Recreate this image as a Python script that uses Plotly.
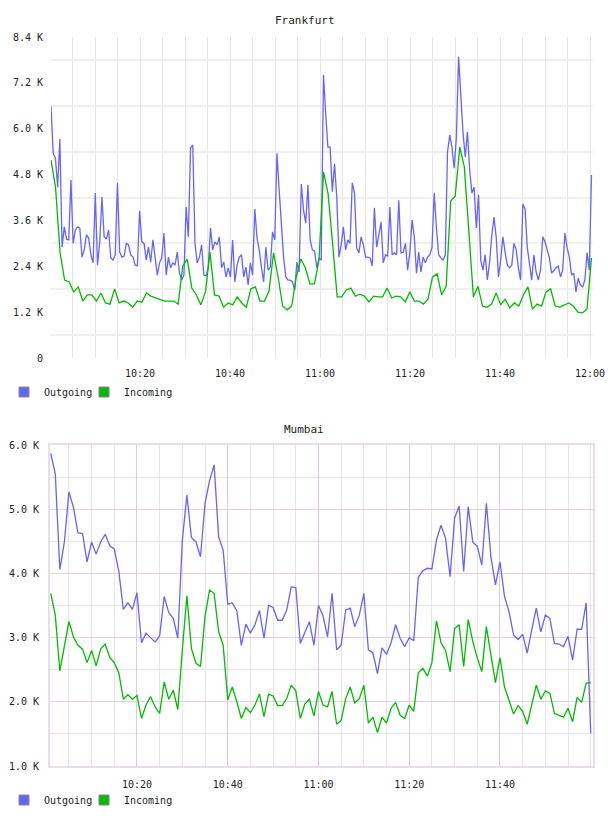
import plotly.graph_objects as go
import pandas as pd

# ---------------- data (values in K) ----------------
fra_out = [6.59, 5.35, 5.23, 4.47, 5.73, 2.9, 3.43, 3.11, 3.09, 4.66,
           3.0, 3.35, 3.43, 3.40, 2.64, 2.83, 3.22, 3.14, 2.70, 2.49,
           4.32, 2.43, 3.04, 4.21, 3.17, 3.11, 3.35, 2.62, 2.56, 2.70,
           4.58, 2.77, 2.64, 2.67, 3.0, 2.96, 2.70, 2.64, 2.43, 2.41,
           3.85, 3.04, 3.0, 2.56, 2.90, 2.51, 3.09, 2.56, 2.17, 2.49,
           2.62, 3.27, 2.17, 2.64, 2.36, 2.49, 2.43, 2.77, 2.22, 2.04,
           2.17, 3.95, 3.17, 5.50, 5.57, 3.0, 2.49, 2.64, 2.96,
           2.17, 2.15, 2.38, 3.40, 2.83, 3.04, 2.96, 3.17, 2.36, 2.51,
           2.12, 2.36, 2.12, 3.09, 1.99, 2.43, 2.64, 2.70, 2.12, 2.38,
           1.91, 2.49, 2.17, 3.90, 3.14, 2.83, 2.38, 1.99, 2.90, 2.30,
           2.38, 3.30, 3.09, 5.36, 4.40, 3.61, 2.64, 2.12, 2.04, 2.04,
           1.99, 1.78, 2.51, 2.25, 4.55, 3.87, 3.53, 4.53, 3.09, 2.83,
           2.80, 2.36, 2.62, 2.56, 7.41, 6.4, 5.52, 5.52, 4.35, 5.08,
           4.21, 2.64, 2.96, 3.43, 2.83, 3.09, 3.0, 4.58, 4.32, 2.88,
           2.75, 3.17, 2.96, 2.64, 2.64, 2.62, 2.41, 3.93, 2.90, 3.22,
           3.56, 2.49, 2.70, 2.67, 3.95, 2.70, 2.75, 2.70, 4.13, 2.75,
           2.77, 3.0, 2.30, 2.77, 3.61, 3.17, 2.22, 2.77, 2.25, 2.64,
           2.49, 2.64, 2.70, 2.90, 4.32, 3.40, 2.70, 2.62, 2.56, 2.70,
           5.39, 5.83, 5.52, 4.97, 5.78, 7.88,
           6.80, 5.89, 5.26, 5.91, 4.92, 4.32, 4.47, 3.40, 4.27, 2.56,
           2.30, 2.70, 2.04, 2.51, 3.22, 3.69, 3.14, 2.12, 2.56, 3.17,
           2.77, 2.43, 2.36, 2.43, 3.0, 2.83, 2.36, 2.04, 4.03, 3.90,
           2.90, 2.43, 2.04, 2.70, 2.25, 2.04, 2.30, 3.17, 3.04, 2.83,
           2.62, 2.22, 2.30, 2.36, 2.41, 2.12, 2.30, 3.27, 2.88, 2.64,
           2.17, 2.22, 1.73, 2.09, 1.91, 1.86, 2.04, 2.75, 2.30, 4.79]

fra_in = [5.18, 4.47, 2.75, 2.04, 1.99, 1.73, 1.86, 1.49, 1.65, 1.65,
          1.49, 1.70, 1.44, 1.41, 1.81, 1.44, 1.49, 1.44, 1.33, 1.49,
          1.46, 1.70, 1.62, 1.57, 1.52, 1.49, 1.49, 1.49, 1.41, 2.41,
          2.59, 1.83, 1.65, 1.39, 1.73, 2.77, 1.65, 1.62, 1.33, 1.44,
          1.39, 1.60, 1.44, 1.33, 1.81, 1.86, 1.49, 1.49, 1.75, 2.75,
          2.12, 1.36, 1.26, 1.36, 2.12, 2.59, 2.36, 1.94, 1.94, 2.56,
          4.87, 4.3, 3.0, 1.60, 1.60, 1.78, 1.83, 1.62, 1.67, 1.62,
          1.47, 1.62, 1.60, 1.60, 1.83, 1.57, 1.62, 1.60, 1.47, 1.73,
          1.49, 1.49, 1.41, 1.54, 2.12, 2.20, 1.65, 1.88, 4.11, 4.24,
          5.52, 5.0, 3.3, 1.60, 1.88, 1.36, 1.33, 1.41, 1.70, 1.39,
          1.54, 1.31, 1.44, 1.36, 1.65, 1.86, 1.28, 1.41, 1.36, 1.73,
          1.81, 1.36, 1.33, 1.39, 1.44, 1.36, 1.20, 1.18, 1.28, 2.62]

mum_out = [5.87, 5.55, 4.06, 4.49, 5.27, 5.03, 4.63, 4.62, 4.18, 4.49,
           4.30, 4.49, 4.61, 4.43, 4.38, 4.03, 3.44, 3.54, 3.44, 3.70,
           2.92, 3.07, 3.0, 2.93, 3.03, 3.64, 3.39, 3.30, 2.99, 4.52,
           5.22, 4.56, 4.49, 4.26, 5.09, 5.45, 5.69, 4.57, 4.36, 3.52,
           3.54, 3.42, 2.88, 3.21, 3.07, 3.20, 3.42, 2.99, 3.50, 3.47,
           3.27, 3.27, 3.43, 3.79, 3.78, 2.91, 3.08, 3.25, 2.88, 3.50,
           3.34, 3.01, 3.69, 2.81, 2.88, 3.43, 3.46, 3.17, 3.35, 3.69,
           2.81, 2.76, 2.44, 2.84, 2.74, 2.92, 3.20, 2.99, 2.86, 3.0,
           2.95, 3.94, 4.04, 4.08, 4.07, 4.52, 4.75, 4.55, 3.95, 4.86,
           5.05, 4.03, 5.04, 4.49, 4.42, 4.13, 5.09, 4.26, 3.82, 4.18,
           3.64, 3.40, 3.04, 2.97, 3.05, 2.76, 3.12, 3.46, 3.09, 3.35,
           3.30, 2.91, 2.90, 2.86, 3.02, 2.65, 3.13, 3.13, 3.54, 1.51]

mum_in = [3.69, 3.35, 2.48, 2.86, 3.25, 3.01, 2.88, 2.82, 2.61, 2.80,
          2.56, 2.82, 2.90, 2.69, 2.61, 2.45, 2.04, 2.11, 2.04, 2.10,
          1.74, 1.95, 2.08, 1.92, 1.82, 2.31, 2.04, 2.18, 1.88, 2.81,
          3.65, 2.83, 2.60, 2.55, 3.33, 3.74, 3.69, 3.09, 2.88, 2.03,
          2.23, 2.0, 1.74, 1.91, 1.83, 1.95, 2.12, 1.77, 2.12, 2.09,
          1.94, 1.94, 2.05, 2.26, 2.17, 1.74, 1.97, 2.04, 1.78, 2.16,
          1.95, 1.92, 2.16, 1.65, 1.71, 2.05, 2.23, 1.98, 2.05, 2.26,
          1.67, 1.76, 1.52, 1.76, 1.67, 1.90, 1.99, 1.79, 1.74, 1.95,
          1.85, 2.45, 2.52, 2.40, 2.61, 3.26, 2.92, 2.80, 2.47, 3.14,
          3.20, 2.55, 3.28, 2.94, 2.68, 2.47, 3.17, 2.73, 2.30, 2.69,
          2.23, 2.02, 1.81, 1.94, 1.85, 1.65, 1.97, 2.26, 2.04, 2.17,
          2.13, 1.82, 1.79, 1.76, 1.90, 1.69, 2.07, 1.99, 2.29, 2.30]

fra_start, fra_end = "2024-01-01 10:00:13", "2024-01-01 12:00:20"
mum_start = "2024-01-01 10:01:00"

fra_yticks = [0, 1.2, 2.4, 3.6, 4.8, 6.0, 7.2, 8.4]
fra_ylabels = ["0", "1.2 K", "2.4 K", "3.6 K", "4.8 K", "6.0 K", "7.2 K", "8.4 K"]
mum_yticks = [1.0, 2.0, 3.0, 4.0, 5.0, 6.0]
mum_ylabels = ["1.0 K", "2.0 K", "3.0 K", "4.0 K", "5.0 K", "6.0 K"]
fra_xticks = ["2024-01-01 10:20", "2024-01-01 10:40", "2024-01-01 11:00",
              "2024-01-01 11:20", "2024-01-01 11:40", "2024-01-01 12:00"]
mum_xticks = fra_xticks[:-1]

series_names = ["Outgoing", "Incoming"]
BLUE = "#6464ff"
GREEN = "#00bb00"

# ---------------- figure ----------------
W, H = 608, 816
fra_out_t = pd.date_range(fra_start, fra_end, periods=len(fra_out))
fra_in_t = pd.date_range(fra_start, fra_end, periods=len(fra_in))
mum_t = pd.date_range(mum_start, periods=len(mum_out), freq="1min")

fig = go.Figure()
for t, v, c in [(fra_out_t, fra_out, BLUE), (fra_in_t, fra_in, GREEN)]:
    fig.add_trace(go.Scatter(x=t, y=v, mode="lines", line=dict(color=c, width=1.3),
                             showlegend=False, xaxis="x", yaxis="y", hoverinfo="skip"))
for v, c in [(mum_out, BLUE), (mum_in, GREEN)]:
    fig.add_trace(go.Scatter(x=mum_t, y=v, mode="lines", line=dict(color=c, width=1.3),
                             showlegend=False, xaxis="x2", yaxis="y2", hoverinfo="skip"))
# legend swatches (plus an empty spacer entry so the last label is not clipped)
for lg, xa, ya in [("legend", "x", "y"), ("legend2", "x2", "y2")]:
    for name, c in zip(series_names, [BLUE, GREEN]):
        fig.add_trace(go.Scatter(x=[None], y=[None], mode="markers", name=name,
                                 marker=dict(symbol="square", size=10, color=c,
                                             line=dict(color="#888888", width=1)),
                                 legend=lg, xaxis=xa, yaxis=ya))
    fig.add_trace(go.Scatter(x=[None], y=[None], mode="markers", name="\u00a0",
                             marker=dict(symbol="square", size=10, color="rgba(0,0,0,0)",
                                         line=dict(width=0)),
                             legend=lg, xaxis=xa, yaxis=ya))

FONT = "DejaVu Sans Mono"
tickfont = dict(family=FONT, size=10, color="#222222")

def px_x(a, b):
    return [a / W, b / W]

def px_y(top, bottom):
    return [(H - bottom) / H, (H - top) / H]

legend_common = dict(orientation="h", xanchor="left", yanchor="middle",
                     font=dict(family=FONT, size=10, color="#222222"),
                     bgcolor="rgba(0,0,0,0)", itemclick=False, itemdoubleclick=False,
                     tracegroupgap=0, entrywidth=35, entrywidthmode="pixels")

fig.update_layout(
    width=W, height=H, margin=dict(l=0, r=0, t=0, b=0, autoexpand=False),
    paper_bgcolor="white", plot_bgcolor="white",
    font=dict(family=FONT, size=10, color="#222222"),
    xaxis=dict(domain=px_x(51, 593), type="date", automargin=False,
               range=["2024-01-01 10:00:13", "2024-01-01 12:00:40"],
               tickmode="array", tickvals=fra_xticks, tickformat="%H:%M",
               showgrid=True, gridcolor="#e6e6e6", gridwidth=1,
               minor=dict(tickmode="linear", tick0="2024-01-01 10:00", dtick=300000,
                          showgrid=True, gridcolor="#e6e6e6", gridwidth=1),
               showline=False, zeroline=False, ticks="", tickfont=tickfont,
               ticklabelstandoff=8, anchor="y", fixedrange=True),
    yaxis=dict(domain=px_y(37, 358), range=[0, 8.4], automargin=False,
               tickmode="array", tickvals=fra_yticks, ticktext=fra_ylabels,
               showgrid=False, zeroline=False, showline=False, ticks="",
               minor=dict(tickmode="linear", tick0=0.6, dtick=1.2,
                          showgrid=True, gridcolor="#efefef", gridwidth=2),
               tickfont=tickfont, ticklabelstandoff=7, anchor="x", fixedrange=True),
    xaxis2=dict(domain=px_x(50, 593), type="date", automargin=False,
                range=["2024-01-01 10:00:50", "2024-01-01 12:00:30"],
                tickmode="array", tickvals=mum_xticks, tickformat="%H:%M",
                showgrid=True, gridcolor="#dcc8dc", gridwidth=1,
                minor=dict(tickmode="linear", tick0="2024-01-01 10:00", dtick=300000,
                           showgrid=True, gridcolor="#e8e4e8", gridwidth=1),
                showline=True, mirror=True, linecolor="#eadcea", linewidth=2,
                zeroline=False, ticks="", tickfont=tickfont,
                ticklabelstandoff=8, anchor="y2", fixedrange=True),
    yaxis2=dict(domain=px_y(445, 766), range=[1.0, 6.0], automargin=False,
                tickmode="array", tickvals=mum_yticks, ticktext=mum_ylabels,
                showgrid=True, gridcolor="#e4cce4", gridwidth=1,
                minor=dict(tickmode="linear", tick0=1.5, dtick=1.0,
                           showgrid=True, gridcolor="#e8e6e8", gridwidth=1),
                showline=True, mirror=True, linecolor="#eadcea", linewidth=2,
                zeroline=False, ticks="", tickfont=tickfont,
                ticklabelstandoff=7, anchor="x2", fixedrange=True),
    legend=dict(x=4 / W, y=(H - 392) / H, **legend_common),
    legend2=dict(x=4 / W, y=(H - 800) / H, **legend_common),
    annotations=[
        dict(text="Frankfurt", xref="paper", yref="paper", x=305 / W, y=(H - 20) / H,
             xanchor="center", yanchor="middle", showarrow=False,
             font=dict(family=FONT, size=11, color="#222222")),
        dict(text="Mumbai", xref="paper", yref="paper", x=304 / W, y=(H - 429) / H,
             xanchor="center", yanchor="middle", showarrow=False,
             font=dict(family=FONT, size=11, color="#222222")),
    ],
)

fig.write_html("out.html")
